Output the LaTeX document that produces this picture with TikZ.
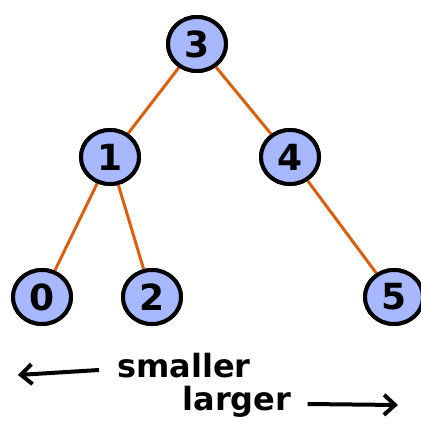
\documentclass[tikz,border=0pt]{standalone}
\usepackage{fontspec}
\setmainfont{DejaVu Sans}
\usetikzlibrary{shapes.geometric,arrows.meta}
\definecolor{nodefill}{HTML}{A8B8FF}
\definecolor{edgecol}{HTML}{D9600E}
\begin{document}
\begin{tikzpicture}[x=1pt,y=-1pt,
  keynode/.style={ellipse,draw=black,line width=4pt,fill=nodefill,
    minimum width=58pt,minimum height=54pt,inner sep=0pt,
    font=\fontsize{36}{38}\selectfont\bfseries},
  treeedge/.style={draw=edgecol,line width=3pt},
  hint/.style={font=\fontsize{32}{34}\selectfont\bfseries,inner sep=0pt},
  hintarrow/.style={line width=4pt,-{Straight Barb[length=11pt,width=20pt,line width=4pt]}}]
  \useasboundingbox (0,0) rectangle (421,432);
  % tree keys
  \node[keynode] (n3) at (197,44) {3};
  \node[keynode] (n1) at (110,157) {1};
  \node[keynode] (n4) at (290,157) {4};
  \node[keynode] (n0) at (42,297) {0};
  \node[keynode] (n2) at (152,297) {2};
  \node[keynode] (n5) at (394,297) {5};
  % links between parent and child
  \path[treeedge] (n3) -- (n1);
  \path[treeedge] (n3) -- (n4);
  \path[treeedge] (n1) -- (n0);
  \path[treeedge] (n1) -- (n2);
  \path[treeedge] (n4) -- (n5);
  % redraw nodes on top of the links
  \node[keynode] at (n3) {3};
  \node[keynode] at (n1) {1};
  \node[keynode] at (n4) {4};
  \node[keynode] at (n0) {0};
  \node[keynode] at (n2) {2};
  \node[keynode] at (n5) {5};
  % ordering hints
  \node[hint] (sm) at (184,366) {smaller};
  \node[hint] (lg) at (237,402) {larger};
  \coordinate (smend) at (18,375);
  \coordinate (lgend) at (398,405);
  \draw[hintarrow] (sm.west) ++(-18,4) coordinate (smstart) -- (smend);
  \draw[hintarrow] (lg.east) ++(16,2) coordinate (lgstart) -- (lgend);
\end{tikzpicture}
\end{document}
